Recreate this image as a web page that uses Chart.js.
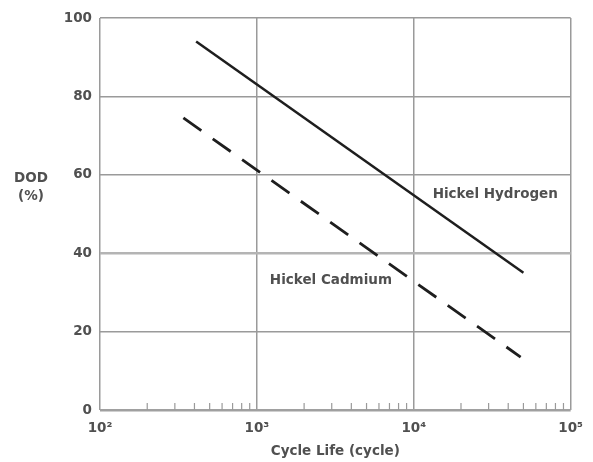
<!DOCTYPE html>
<html>
<head>
<meta charset="utf-8">
<script src="https://cdn.jsdelivr.net/npm/chart.js@4"></script>
<style>
  html, body { margin: 0; padding: 0; background: #fff; }
  #wrap { width: 593px; height: 462px; }
</style>
</head>
<body>
<div id="wrap"><canvas id="myChart" width="593" height="462"></canvas></div>
<script>
// data
const decades = [100, 1000, 10000, 100000];
const decadeLabels = ['10\u00B2', '10\u00B3', '10\u2074', '10\u2075'];
const yTicks = [0, 20, 40, 60, 80, 100];
const hydrogenX = [410, 50000];
const hydrogenY = [94, 35];
const cadmiumX = [340, 48000];
const cadmiumY = [74.5, 13.5];
const seriesNames = ['Hickel Hydrogen', 'Hickel Cadmium'];
const yTitle = ['DOD', '(%)'];
const xTitle = 'Cycle Life (cycle)';

const textColor = '#505050';
const gridColor = '#9a9a9a';
const font = { family: 'DejaVu Sans, sans-serif', size: 13.5, weight: 'bold' };

function isDecade(v) {
    return decades.indexOf(v) !== -1;
}

// minor positions 2..9 in each decade, for the small ticks at the bottom
const xTickValues = [];
decades.forEach((d, i) => {
    xTickValues.push(d);
    if (i < decades.length - 1) {
        for (let k = 2; k <= 9; k++) xTickValues.push(d * k);
    }
});

const extras = {
    id: 'extras',
    afterDraw(chart) {
        const c = chart.ctx;
        const xs = chart.scales.x;
        const ys = chart.scales.y;
        const bottom = chart.chartArea.bottom;
        c.save();
        // minor ticks, pointing up into the plot
        c.strokeStyle = gridColor;
        c.lineWidth = 1.2;
        xTickValues.forEach(v => {
            if (isDecade(v)) return;
            const px = xs.getPixelForValue(v);
            c.beginPath();
            c.moveTo(px, bottom);
            c.lineTo(px, bottom - 7);
            c.stroke();
        });
        // y title
        c.fillStyle = textColor;
        c.font = 'bold 13.5px ' + font.family;
        c.textAlign = 'center';
        c.textBaseline = 'middle';
        c.fillText(yTitle[0], 31, 178);
        c.fillText(yTitle[1], 31, 196);
        // series labels, anchored to data coordinates
        c.textAlign = 'left';
        c.fillText(seriesNames[0], xs.getPixelForValue(13200), ys.getPixelForValue(55));
        c.fillText(seriesNames[1], xs.getPixelForValue(1210), ys.getPixelForValue(33));
        c.restore();
    }
};

document.addEventListener('DOMContentLoaded', () => {
    const ctx = document.getElementById('myChart');
    new Chart(ctx, {
        type: 'line',
        data: {
            datasets: [{
                label: seriesNames[0],
                data: hydrogenX.map((x, i) => ({ x: x, y: hydrogenY[i] })),
                borderColor: '#1e1e1e',
                borderWidth: 2.5,
                pointRadius: 0,
                fill: false
            }, {
                label: seriesNames[1],
                data: cadmiumX.map((x, i) => ({ x: x, y: cadmiumY[i] })),
                borderColor: '#1e1e1e',
                borderWidth: 2.8,
                borderDash: [22, 14],
                pointRadius: 0,
                fill: false
            }]
        },
        options: {
            responsive: false,
            animation: false,
            layout: { padding: { top: 18, right: 22, left: 0, bottom: 0 } },
            plugins: { legend: { display: false }, tooltip: { enabled: false } },
            scales: {
                x: {
                    type: 'logarithmic',
                    min: 100,
                    max: 100000,
                    afterBuildTicks: (scale) => {
                        scale.ticks = xTickValues.map(v => ({ value: v, major: isDecade(v) }));
                    },
                    afterFit: (scale) => { scale.height = 52; },
                    ticks: {
                        autoSkip: false,
                        maxRotation: 0,
                        padding: 10,
                        color: textColor,
                        font: font,
                        callback: (v) => {
                            const i = decades.indexOf(v);
                            return i === -1 ? '' : decadeLabels[i];
                        }
                    },
                    grid: {
                        color: (c) => isDecade(c.tick.value) ? gridColor : 'rgba(0,0,0,0)',
                        lineWidth: 1.5,
                        drawTicks: false
                    },
                    border: { display: false },
                    title: {
                        display: true,
                        text: xTitle,
                        color: textColor,
                        font: font,
                        padding: { top: 4, bottom: 2 }
                    }
                },
                y: {
                    min: 0,
                    max: 100,
                    afterBuildTicks: (scale) => {
                        scale.ticks = yTicks.map(v => ({ value: v }));
                    },
                    afterFit: (scale) => { scale.width = 100; },
                    ticks: {
                        padding: 8,
                        color: textColor,
                        font: font
                    },
                    grid: {
                        color: (c) => c.tick.value === 0 ? '#a0a0a0' : (c.tick.value === 40 ? '#b4b4b4' : gridColor),
                        lineWidth: (c) => c.tick.value === 0 ? 2.5 : (c.tick.value === 40 ? 2.5 : 1.5),
                        drawTicks: false
                    },
                    border: { display: false }
                }
            }
        },
        plugins: [extras]
    });
});
</script>
</body>
</html>
